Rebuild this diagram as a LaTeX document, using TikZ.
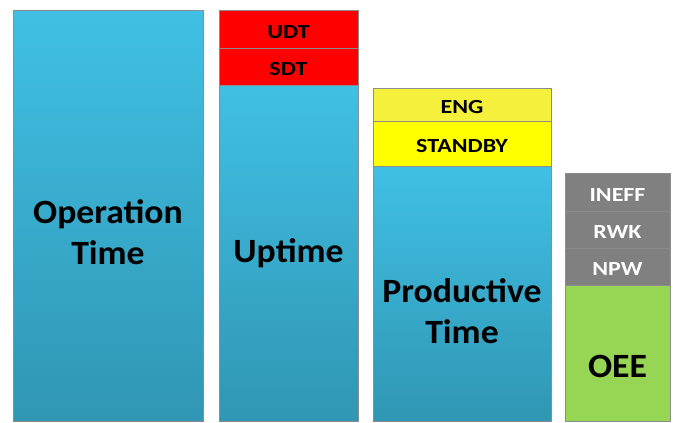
\documentclass[tikz,border=0pt]{standalone}
\usepackage{fontspec}
\setmainfont{Carlito}
\newfontfamily\smallfnt[FakeStretch=1.2]{Carlito}
\newfontfamily\bigfnt[FakeStretch=1.05]{Carlito}
\begin{document}
\begin{tikzpicture}[x=1pt,y=-1pt,
  seg/.style={draw=black!45, line width=0.6pt, inner sep=0pt, outer sep=0pt, anchor=north west, text height=18pt, text depth=0pt, font=\smallfnt\bfseries\fontsize{20}{22}\selectfont},
  blue/.style={seg, top color={rgb,255:red,64;green,192;blue,228}, bottom color={rgb,255:red,48;green,150;blue,180}},
  redseg/.style={seg, fill={rgb,255:red,255;green,0;blue,0}},
  yelseg/.style={seg, fill={rgb,255:red,255;green,255;blue,0}},
  grayseg/.style={seg, fill={rgb,255:red,128;green,128;blue,128}, text=white},
  greenseg/.style={seg, fill={rgb,255:red,150;green,214;blue,84}},
  big/.style={font=\bigfnt\bfseries\fontsize{34}{41}\selectfont, align=center, inner sep=0pt}
]
\useasboundingbox (0,0) rectangle (673,423);
\fill[white] (0,0) rectangle (673,423);
% bar 1
\node[blue, minimum width=190pt, minimum height=411pt] (op) at (13,10) {};
\node[big] (optext) at (108,232) {Operation\\Time};
% bar 2
\node[redseg, minimum width=139pt, minimum height=38pt] (udt) at (219,10) {UDT};
\node[redseg, minimum width=139pt, minimum height=37pt] (sdt) at (219,48) {SDT};
\node[blue, minimum width=139pt, minimum height=336pt] (up) at (219,85) {};
\node[big] (uptext) at (288.5,253) {Uptime};
% bar 3
\node[yelseg, minimum width=178pt, minimum height=33pt, fill={rgb,255:red,245;green,240;blue,60}] (eng) at (373,88) {ENG};
\node[yelseg, minimum width=178pt, minimum height=45pt] (stby) at (373,121) {STANDBY};
\node[blue, minimum width=178pt, minimum height=255pt] (prod) at (373,166) {};
\node[big] (prodtext) at (462,311) {Productive\\Time};
% bar 4
\node[grayseg, minimum width=105pt, minimum height=38pt] (ineff) at (565,173) {INEFF};
\node[grayseg, minimum width=105pt, minimum height=37pt] (rwk) at (565,211) {RWK};
\node[grayseg, minimum width=105pt, minimum height=37pt] (npw) at (565,248) {NPW};
\node[greenseg, minimum width=105pt, minimum height=136pt] (oee) at (565,285) {};
\node[big] (oeetext) at (617.5,366) {OEE};
\end{tikzpicture}
\end{document}
